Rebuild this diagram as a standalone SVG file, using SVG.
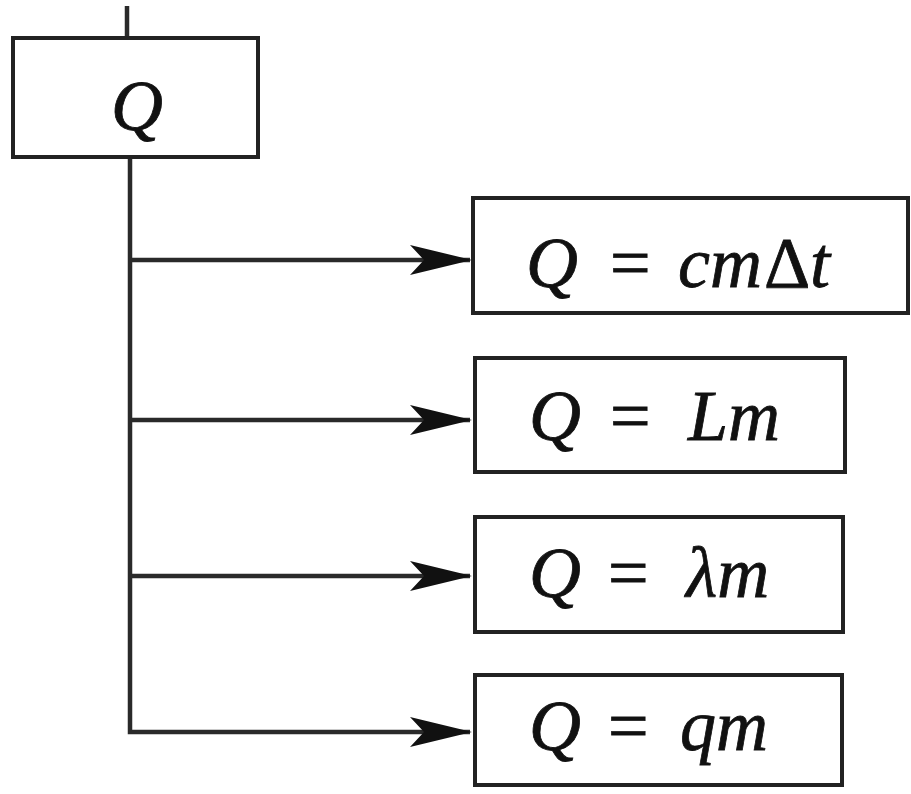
<svg xmlns="http://www.w3.org/2000/svg" width="911" height="794" viewBox="0 0 911 794">
<defs>
<style>
.box{fill:#fff;stroke:#222;stroke-width:4}
.ln{fill:none;stroke:#2a2a2a;stroke-width:4.5}
.t{font-family:"Liberation Serif","Times New Roman",serif;font-size:72px;fill:#111;stroke:#111;stroke-width:0.8}
.i{font-style:italic}
</style>
<marker id="ah" markerUnits="userSpaceOnUse" viewBox="0 0 62 32" refX="60" refY="16" markerWidth="62" markerHeight="32" orient="auto">
<path d="M0,1 L62,16 L0,31 L14,16 Z" fill="#111"/>
</marker>
</defs>
<rect width="911" height="794" fill="#fff"/>
<g id="connectors">
<line class="ln" x1="127" y1="6" x2="127" y2="38"/>
<path class="ln" d="M130,157 V732 H470" marker-end="url(#ah)"/>
<line class="ln" x1="130" y1="260" x2="470" y2="260" marker-end="url(#ah)"/>
<line class="ln" x1="130" y1="420" x2="470" y2="420" marker-end="url(#ah)"/>
<line class="ln" x1="130" y1="576" x2="470" y2="576" marker-end="url(#ah)"/>
</g>
<g id="node-Q">
<rect class="box" x="13" y="38" width="245" height="119"/>
<text class="t i" x="137" y="130" text-anchor="middle">Q</text>
</g>
<g id="node-cmdt">
<rect class="box" x="473" y="198" width="435" height="115"/>
<text class="t"><tspan class="i" x="526" y="287">Q</tspan><tspan x="610" y="287">=</tspan><tspan class="i" x="678" y="287">cm</tspan><tspan x="764" y="287">Δ</tspan><tspan class="i" x="810" y="287">t</tspan></text>
</g>
<g id="node-Lm">
<rect class="box" x="475" y="358" width="370" height="114"/>
<text class="t"><tspan class="i" x="529" y="440">Q</tspan><tspan x="610" y="440">=</tspan><tspan class="i" x="688" y="440">Lm</tspan></text>
</g>
<g id="node-lm">
<rect class="box" x="475" y="517" width="368" height="115"/>
<text class="t"><tspan class="i" x="529" y="597">Q</tspan><tspan x="608" y="597">=</tspan><tspan class="i" x="686" y="597">λm</tspan></text>
</g>
<g id="node-qm">
<rect class="box" x="475" y="675" width="367" height="110"/>
<text class="t"><tspan class="i" x="529" y="750">Q</tspan><tspan x="608" y="750">=</tspan><tspan class="i" x="680" y="750">qm</tspan></text>
</g>
</svg>
